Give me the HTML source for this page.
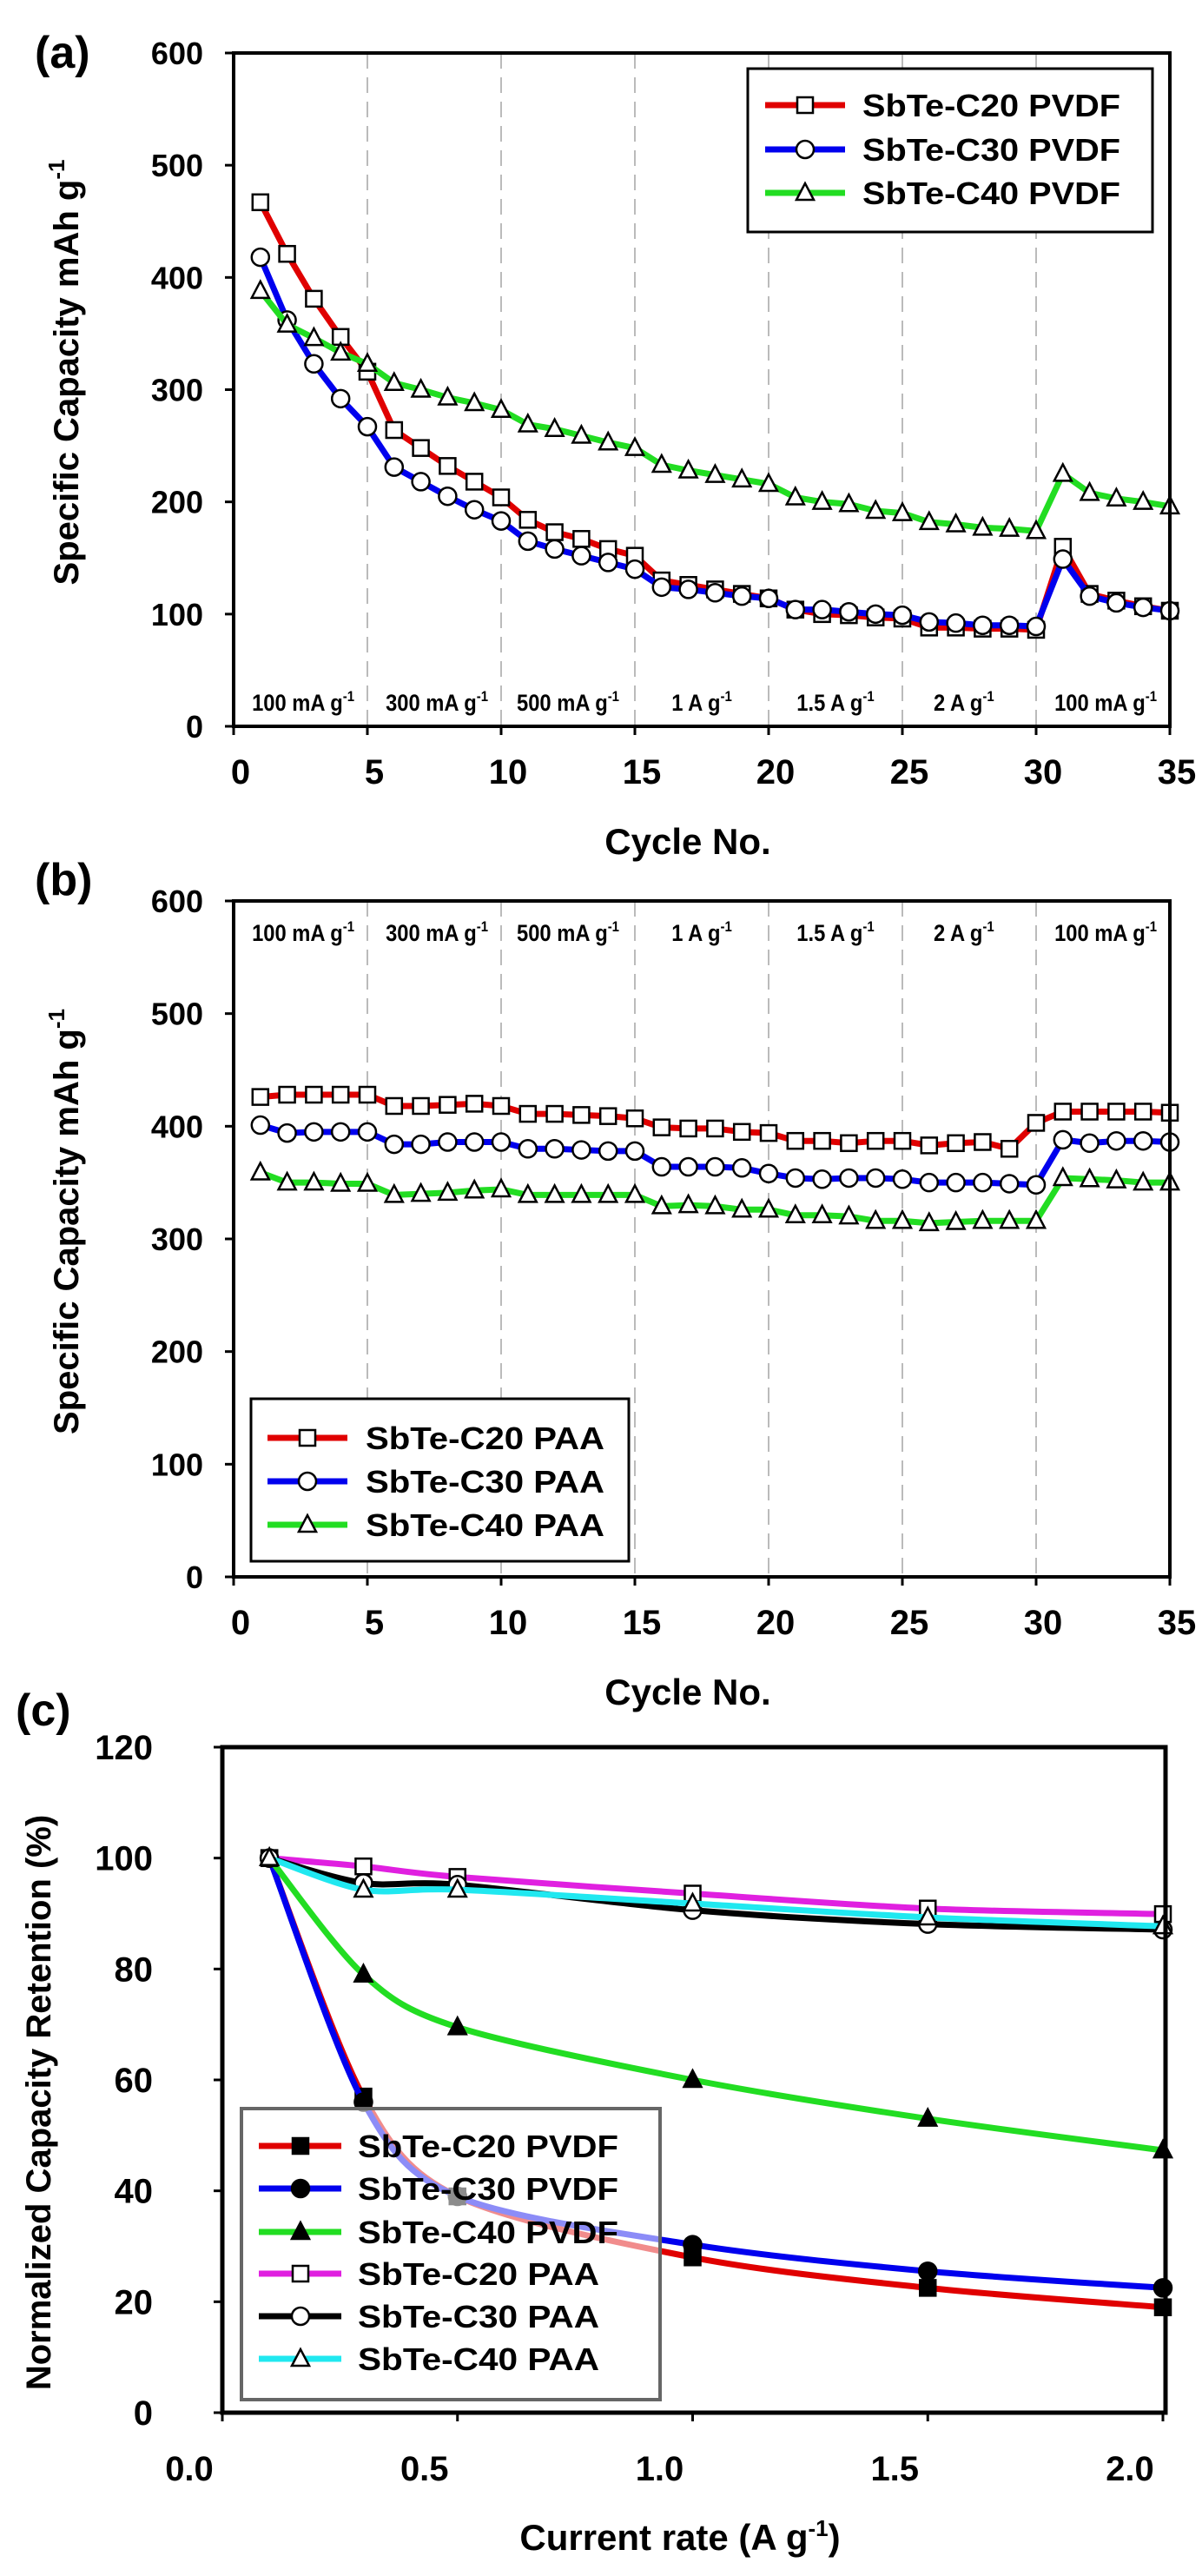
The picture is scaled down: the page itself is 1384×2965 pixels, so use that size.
<!DOCTYPE html>
<html><head><meta charset="utf-8"><title>SbTe-C capacity charts</title>
<style>
html,body{margin:0;padding:0;background:#fff;}
svg{display:block;}
text{font-family:"Liberation Sans",sans-serif;font-weight:bold;fill:#000;}
</style></head>
<body>
<svg id="fig" xmlns="http://www.w3.org/2000/svg" width="1384" height="2965" viewBox="0 0 1384 2965"></svg>
<script>
// ---------- data: panel (a) PVDF ----------
const cycles = [1,2,3,4,5,6,7,8,9,10,11,12,13,14,15,16,17,18,19,20,21,22,23,24,25,26,27,28,29,30,31,32,33,34,35];
const aC20 = [467,421,381,347,316,264,248,232,218,204,184,173,167,158,152,130,126,122,118,114,104,100,99,97,96,88,88,87,87,86,160,118,112,107,103];
const aC30 = [418,362,323,292,267,231,218,205,193,183,165,158,152,146,140,124,122,119,116,114,104,104,102,100,99,93,92,90,90,89,149,116,110,106,103];
const aC40 = [388,358,346,333,323,306,300,293,288,282,269,265,259,253,248,233,228,224,220,216,204,200,198,192,190,182,180,177,176,174,225,208,203,200,196];
// ---------- data: panel (b) PAA ----------
const bC20 = [426,428,428,428,428,418,418,419,420,418,411,411,410,409,407,399,398,398,395,394,387,387,385,387,387,383,385,386,380,403,413,413,413,413,412];
const bC30 = [401,394,395,395,395,384,384,386,386,386,380,380,379,378,378,364,364,364,363,358,354,353,354,354,353,350,350,350,349,348,388,385,387,387,386];
const bC40 = [359,350,350,349,349,339,340,341,343,344,339,339,339,339,339,329,330,329,326,326,321,321,320,316,316,314,315,316,316,316,354,353,352,350,350];
const yTicksCap = [0,100,200,300,400,500,600];
const xTicksCycle = [0,5,10,15,20,25,30,35];
const rateBounds = [5,10,15,20,25,30];
const rateLabels = ["100  mA g","300  mA g","500  mA g","1 A g","1.5 A g","2 A g","100  mA g"];
const rateCenters = [2.6,7.6,12.5,17.5,22.5,27.3,32.6];
// ---------- data: panel (c) ----------
const rates = [0.1,0.3,0.5,1.0,1.5,2.0];
const cPvdf20 = [100,57,39,28,22.5,19];
const cPvdf30 = [100,56,39,30.3,25.5,22.5];
const cPvdf40 = [100,79,69.5,60,53,47.3];
const cPaa20 = [100,98.5,96.6,93.6,90.9,89.9];
const cPaa30 = [100,95.5,95.2,90.6,88.1,87.1];
const cPaa40 = [100,94.3,94.3,91.8,89.3,87.7];
const xTicksRate = [0.0,0.5,1.0,1.5,2.0];
const xTickRateLabels = ["0.0","0.5","1.0","1.5","2.0"];
const yTicksRet = [0,20,40,60,80,100,120];

const NS = "http://www.w3.org/2000/svg";
const svg = document.getElementById('fig');
function mk(tag, attrs, parent){
  const e = document.createElementNS(NS, tag);
  for (const k in attrs) e.setAttribute(k, attrs[k]);
  (parent||svg).appendChild(e);
  return e;
}
function txt(s, attrs, parent){ const t = mk('text', attrs, parent); t.textContent = s; return t; }

function marker(g, kind, x, y, fill){
  let m;
  if (kind==='square') m = mk('rect',{x:x-9,y:y-9,width:18,height:18,fill:fill,stroke:'#000','stroke-width':2.5},g);
  else if (kind==='circle') m = mk('circle',{cx:x,cy:y,r:10,fill:fill,stroke:'#000','stroke-width':2.5},g);
  else m = mk('polygon',{points:`${x},${y-11} ${x-10},${y+8} ${x+10},${y+8}`,fill:fill,stroke:'#000','stroke-width':2.5},g);
  return m;
}

// ---------- cycle charts (a) and (b) ----------
function cycleChart(opt){
  const L=269,R=1347,T=opt.top,B=opt.bottom;
  const sx = v => L + (v-0)/(35-0)*(R-L);
  const sy = v => B - v/600*(B-T);
  const g = mk('g',{});
  
  
  txt(opt.panel,{x:40,y:opt.labelY,'font-size':52,'font-weight':'normal'},g);
  rateBounds.forEach(v=>{
    const l = mk('line',{x1:sx(v),x2:sx(v),y1:T,y2:B,stroke:'#bbb','stroke-width':2,'stroke-dasharray':'18,10'},g);
    
    
  });
  rateLabels.forEach((s,i)=>{
    const cx = sx(rateCenters[i]);
    const t = mk('text',{x:0,y:0,'font-size':27,'text-anchor':'middle',transform:`translate(${cx},${opt.rateY}) scale(0.88,1)`},g);
    t.textContent = s;
    const sup = mk('tspan',{dy:-11,'font-size':17},t); sup.textContent='-1';
    
    
  });
  opt.series.forEach(s=>{
    const sg = mk('g',{},g);
    
    
    mk('polyline',{points:s.data.map((v,i)=>sx(cycles[i])+','+sy(v)).join(' '),fill:'none',stroke:s.color,'stroke-width':7,'stroke-linejoin':'round'},sg);
    s.data.forEach((v,i)=>{
      const m = marker(sg,s.kind,sx(cycles[i]),sy(v),'#fff');
      
      
    });
  });
  mk('rect',{x:L,y:T,width:R-L,height:B-T,fill:'none',stroke:'#000','stroke-width':4},g);
  yTicksCap.forEach(v=>{
    mk('line',{x1:L-10,x2:L,y1:sy(v),y2:sy(v),stroke:'#000','stroke-width':3},g);
    const t = txt(String(v),{x:234,y:sy(v)+13,'font-size':36,'text-anchor':'end'},g);
    
    
  });
  xTicksCycle.forEach(v=>{
    mk('line',{x1:sx(v),x2:sx(v),y1:B,y2:B+10,stroke:'#000','stroke-width':3},g);
    const t = txt(String(v),{x:sx(v)+8,y:B+66,'font-size':40,'text-anchor':'middle'},g);
    
    
  });
  const xt = txt('Cycle No.',{x:792,y:B+147,'font-size':42,'text-anchor':'middle'},g);
  
  const yt = mk('text',{x:0,y:0,'font-size':40,'text-anchor':'middle',transform:`translate(90,${(T+B)/2-20}) rotate(-90)`},g);
  yt.textContent='Specific Capacity mAh g';
  const ys = mk('tspan',{dy:-16,'font-size':26},yt); ys.textContent='-1';
  
  
  const lg = mk('g',{},g);
  
  
  const Lb = opt.legend;
  mk('rect',{x:Lb.x,y:Lb.y,width:Lb.w,height:Lb.h,fill:'#fff',stroke:'#000','stroke-width':3},lg);
  opt.series.forEach((s,i)=>{
    const ey = Lb.rows[i];
    const eg = mk('g',{},lg);
    
    
    mk('line',{x1:Lb.lx,x2:Lb.lx+92,y1:ey,y2:ey,stroke:s.color,'stroke-width':7},eg);
    marker(eg,s.kind,Lb.lx+46,ey,'#fff');
    txt(s.label,{x:Lb.tx,y:ey+13,'font-size':36,textLength:Lb.tl,lengthAdjust:'spacingAndGlyphs'},eg);
  });
}

cycleChart({name:'chart-a-pvdf',panel:'(a)',labelY:78,top:61,bottom:836,rateY:818,
  series:[{id:'series-c20-pvdf',data:aC20,color:'#e00000',kind:'square',label:'SbTe-C20 PVDF'},
          {id:'series-c30-pvdf',data:aC30,color:'#0000ee',kind:'circle',label:'SbTe-C30 PVDF'},
          {id:'series-c40-pvdf',data:aC40,color:'#22dd22',kind:'triangle',label:'SbTe-C40 PVDF'}],
  legend:{x:861,y:79,w:466,h:188,rows:[121,172,222],lx:881,tx:993,tl:297}});

cycleChart({name:'chart-b-paa',panel:'(b)',labelY:1030,top:1037,bottom:1815,rateY:1083,
  series:[{id:'series-c20-paa',data:bC20,color:'#e00000',kind:'square',label:'SbTe-C20 PAA'},
          {id:'series-c30-paa',data:bC30,color:'#0000ee',kind:'circle',label:'SbTe-C30 PAA'},
          {id:'series-c40-paa',data:bC40,color:'#22dd22',kind:'triangle',label:'SbTe-C40 PAA'}],
  legend:{x:289,y:1610,w:435,h:187,rows:[1655,1705,1755],lx:308,tx:421,tl:275}});

// ---------- panel (c) ----------
(function(){
  const L=256,R=1342,T=2011,B=2777;
  const sx = v => L + v/2.0*(1339-L);
  const sy = v => B - v/120*(B-T);
  const g = mk('g',{});
  
  
  txt('(c)',{x:18,y:1986,'font-size':52,'font-weight':'normal'},g);
  const series = [
    {id:'series-c20-pvdf',data:cPvdf20,color:'#e00000',kind:'square',fill:'#000',label:'SbTe-C20 PVDF'},
    {id:'series-c30-pvdf',data:cPvdf30,color:'#0000ee',kind:'circle',fill:'#000',label:'SbTe-C30 PVDF'},
    {id:'series-c40-pvdf',data:cPvdf40,color:'#22dd22',kind:'triangle',fill:'#000',label:'SbTe-C40 PVDF'},
    {id:'series-c20-paa',data:cPaa20,color:'#e020e0',kind:'square',fill:'#fff',label:'SbTe-C20 PAA'},
    {id:'series-c30-paa',data:cPaa30,color:'#000',kind:'circle',fill:'#fff',label:'SbTe-C30 PAA'},
    {id:'series-c40-paa',data:cPaa40,color:'#20e8f0',kind:'triangle',fill:'#fff',label:'SbTe-C40 PAA'}];
  function smooth(pts){
    let d='M'+pts[0][0]+','+pts[0][1];
    for(let i=0;i<pts.length-1;i++){
      const p0=pts[Math.max(0,i-1)],p1=pts[i],p2=pts[i+1],p3=pts[Math.min(pts.length-1,i+2)];
      const k=0.15;
      const c1=[p1[0]+(p2[0]-p0[0])*k,p1[1]+(p2[1]-p0[1])*k];
      const c2=[p2[0]-(p3[0]-p1[0])*k,p2[1]-(p3[1]-p1[1])*k];
      d+=` C${c1[0]},${c1[1]} ${c2[0]},${c2[1]} ${p2[0]},${p2[1]}`;
    }
    return d;
  }
  series.forEach(s=>{
    const sg = mk('g',{},g);
    
    
    const pts = s.data.map((v,i)=>[sx(rates[i]),sy(v)]);
    mk('path',{d:smooth(pts),fill:'none',stroke:s.color,'stroke-width':7,'stroke-linejoin':'round'},sg);
    s.data.forEach((v,i)=>{
      const m = marker(sg,s.kind,sx(rates[i]),sy(v),s.fill);
      
      
    });
  });
  mk('rect',{x:L,y:T,width:R-L,height:B-T,fill:'none',stroke:'#000','stroke-width':5},g);
  yTicksRet.forEach(v=>{
    mk('line',{x1:L-10,x2:L,y1:sy(v),y2:sy(v),stroke:'#000','stroke-width':3},g);
    const t = txt(String(v),{x:176,y:sy(v)+14,'font-size':40,'text-anchor':'end'},g);
    
    
  });
  xTicksRate.forEach((v,i)=>{
    mk('line',{x1:sx(v),x2:sx(v),y1:B,y2:B+10,stroke:'#000','stroke-width':3},g);
    const t = txt(xTickRateLabels[i],{x:sx(v)-38,y:B+78,'font-size':40,'text-anchor':'middle'},g);
    
    
  });
  const xt = mk('text',{x:783,y:2935,'font-size':42,'text-anchor':'middle'},g);
  xt.textContent='Current rate (A g';
  const xs = mk('tspan',{dy:-16,'font-size':26},xt); xs.textContent='-1';
  const xe = mk('tspan',{dy:16},xt); xe.textContent=')';
  
  
  const yt = txt('Normalized Capacity Retention (%)',{x:0,y:0,'font-size':40,'text-anchor':'middle',transform:'translate(58,2420) rotate(-90)'},g);
  
  
  const lg = mk('g',{},g);
  
  
  mk('rect',{x:278,y:2427,width:482,height:335,fill:'rgba(255,255,255,0.55)',stroke:'#666','stroke-width':4},lg);
  const rows=[2470,2519,2569,2617,2666,2715];
  series.forEach((s,i)=>{
    const eg = mk('g',{},lg);
    
    
    mk('line',{x1:298,x2:393,y1:rows[i],y2:rows[i],stroke:s.color,'stroke-width':7},eg);
    marker(eg,s.kind,346,rows[i],s.fill);
    txt(s.label,{x:412,y:rows[i]+13,'font-size':36,textLength:i<3?300:278,lengthAdjust:'spacingAndGlyphs'},eg);
  });
})();
</script>
</body></html>
